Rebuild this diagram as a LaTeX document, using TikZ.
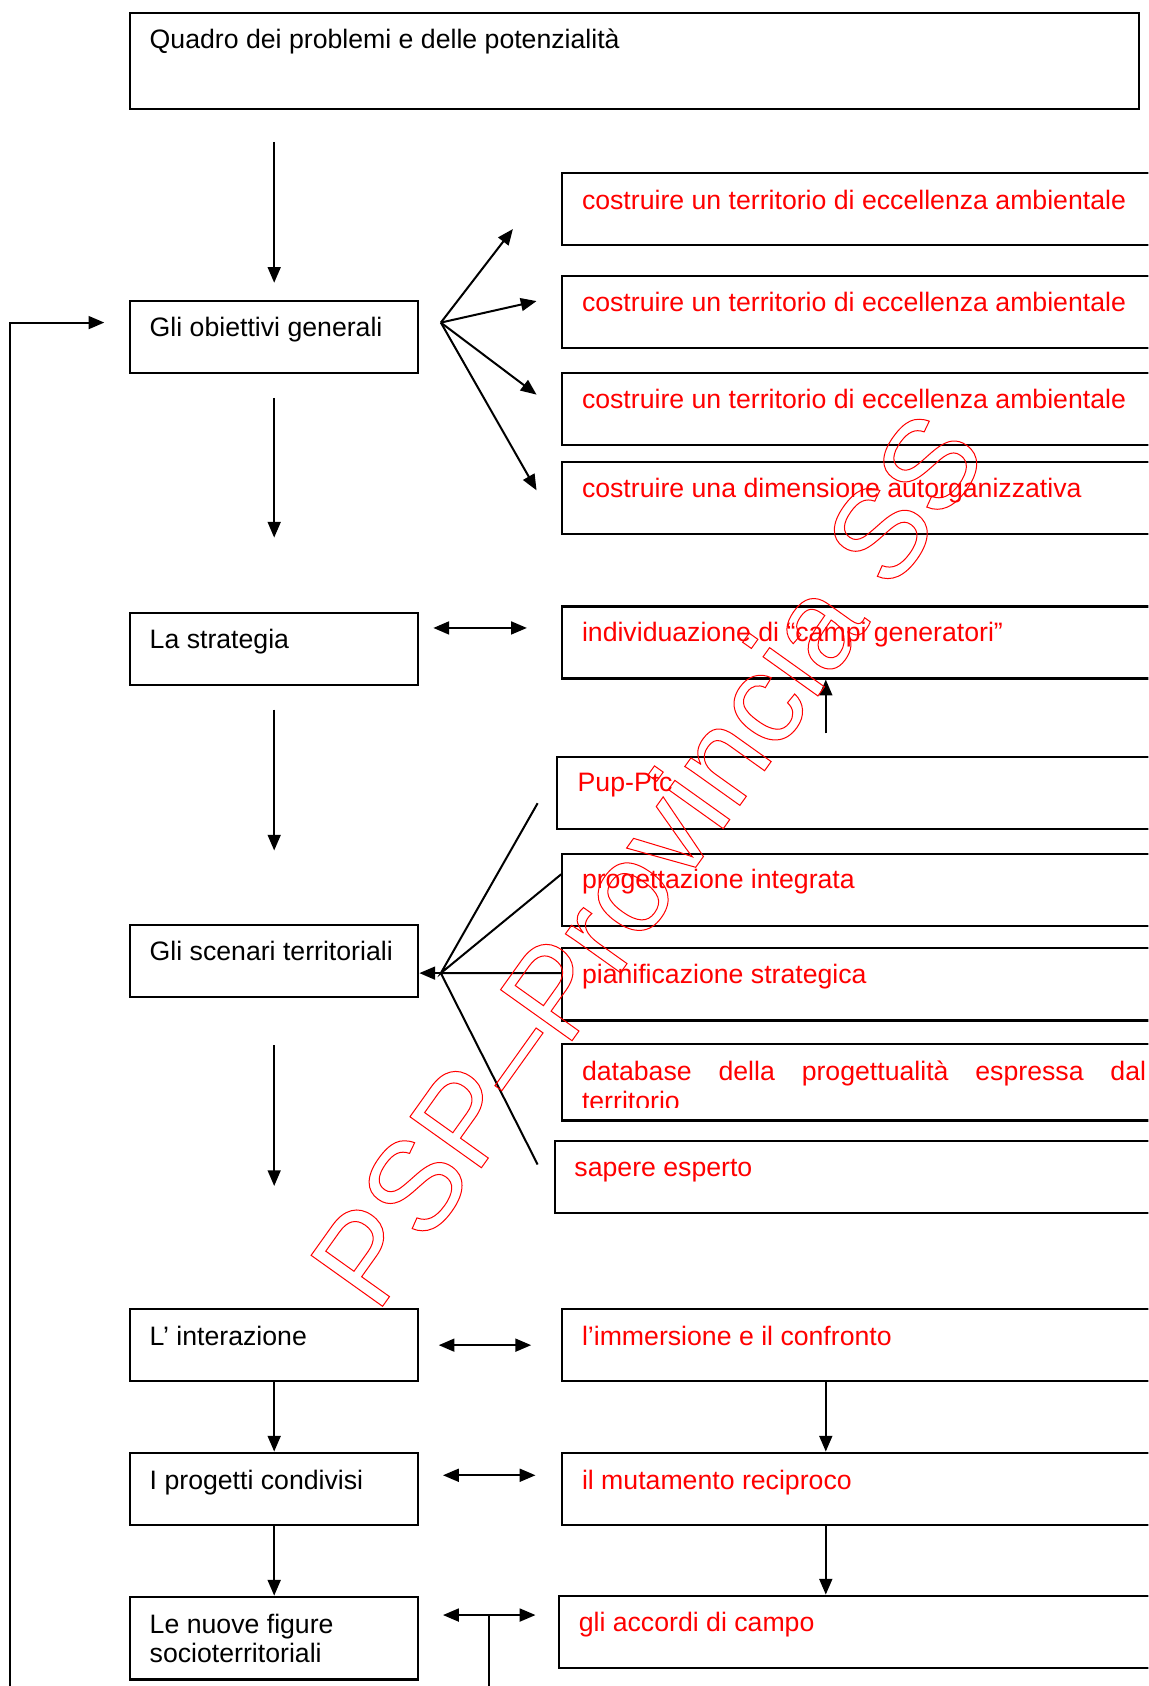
\documentclass[tikz,border=0pt]{standalone}
\usepackage{fontspec}
\setmainfont{Liberation Sans}
\usetikzlibrary{arrows.meta}

\begin{document}
\begin{tikzpicture}[x=0.75pt,y=-0.75pt]
		\tikzstyle{every node}+=[inner sep=0pt]
		\tikzstyle{box}=[draw, black, line width=1.5pt, anchor=north west, minimum height=50.25pt]
		\tikzstyle{lbox}=[box, minimum width=201pt]
		\tikzstyle{rbox}=[box, minimum width=450pt]
		\tikzstyle{txt}=[anchor=base west, font=\fontsize{18.6}{20.6}\selectfont]
		\tikzstyle{rtxt}=[txt, text=red]
		\tikzstyle{arr}=[black, line width=1.4pt, -{Triangle[length=11pt,width=9pt]}]
		\tikzstyle{dbl}=[black, line width=1.4pt, {Triangle[length=11pt,width=9pt]}-{Triangle[length=11pt,width=9pt]}]
		\useasboundingbox (0,0) rectangle (1068,1568);
		\clip (0,0) rectangle (1068,1568);
		% left column
		\node [box, minimum width=703.5pt, minimum height=66.75pt] (quadro) at (120,11) {};
		\node [txt] (quadroT) at ([shift={(19,34)}]quadro.north west) {Quadro dei problemi e delle potenzialità};
		\node [lbox] (obj) at (120,279) {};
		\node [txt] (objT) at ([shift={(19,34)}]obj.north west) {Gli obiettivi generali};
		\node [lbox] (strat) at (120,569) {};
		\node [txt] (stratT) at ([shift={(19,34)}]strat.north west) {La strategia};
		\node [lbox] (scen) at (120,859) {};
		\node [txt] (scenT) at ([shift={(19,34)}]scen.north west) {Gli scenari territoriali};
		\node [lbox] (inter) at (120,1216) {};
		\node [txt] (interT) at ([shift={(19,35)}]inter.north west) {L’ interazione};
		\node [lbox] (prog) at (120,1350) {};
		\node [txt] (progT) at ([shift={(19,35)}]prog.north west) {I progetti condivisi};
		\node [lbox, minimum height=57.75pt] (nuove) at (120,1484) {};
		\node [txt] (nuoveT) at ([shift={(19,35)}]nuove.north west) {\parbox[t]{180pt}{Le nuove figure\\socioterritoriali}};
		% right column
		\node [rbox] (ob1) at (522,160) {};
		\node [rtxt] (ob1T) at ([shift={(19,35)}]ob1.north west) {costruire un territorio di eccellenza ambientale};
		\node [rbox] (ob2) at (522,256) {};
		\node [rtxt] (ob2T) at ([shift={(19,34)}]ob2.north west) {costruire un territorio di eccellenza ambientale};
		\node [rbox] (ob3) at (522,346) {};
		\node [rtxt] (ob3T) at ([shift={(19,34)}]ob3.north west) {costruire un territorio di eccellenza ambientale};
		\node [rbox] (ob4) at (522,429) {};
		\node [rtxt] (ob4T) at ([shift={(19,34)}]ob4.north west) {costruire una dimensione autorganizzativa};
		\node [rbox] (camp) at (522,563) {};
		\node [rtxt] (campT) at ([shift={(19,34)}]camp.north west) {individuazione di “campi generatori”};
		\node [rbox] (pup) at (517,703) {};
		\node [rtxt] (pupT) at ([shift={(20,33)}]pup.north west) {Pup-Ptc};
		\node [rbox] (pint) at (522,793) {};
		\node [rtxt] (pintT) at ([shift={(19,33)}]pint.north west) {progettazione integrata};
		\node [rbox] (pian) at (522,881) {};
		\node [rtxt] (pianT) at ([shift={(19,34)}]pian.north west) {pianificazione strategica};
		\node [rbox, minimum height=53.25pt] (db) at (522,970) {};
		\begin{scope}
			\clip (522,970) rectangle (1068,1030);
			\node [rtxt] (dbT) at ([shift={(19,35)}]db.north west) {\parbox[t]{393.5pt}{\hbadness=10000 database della progettualità espressa dal\linebreak territorio}};
		\end{scope}
		\node [rbox] (sap) at (515,1060) {};
		\node [rtxt] (sapT) at ([shift={(19,34)}]sap.north west) {sapere esperto};
		\node [rbox] (imm) at (522,1216) {};
		\node [rtxt] (immT) at ([shift={(19,35)}]imm.north west) {l’immersione e il confronto};
		\node [rbox] (mut) at (522,1350) {};
		\node [rtxt] (mutT) at ([shift={(19,35)}]mut.north west) {il mutamento reciproco};
		\node [rbox] (acc) at (519,1483) {};
		\node [rtxt] (accT) at ([shift={(19,34)}]acc.north west) {gli accordi di campo};
		% downward arrows
		\draw [arr, shorten <=22.5pt, shorten >=12pt] (obj.north |- quadro.south) -- (obj.north);
		\draw [arr, shorten <=16.5pt, shorten >=51.75pt] (obj.south) -- (strat.north);
		\draw [arr, shorten <=16.5pt, shorten >=51pt] (strat.south) -- (scen.north);
		\draw [arr, shorten <=33pt, shorten >=84.75pt] (scen.south) -- (inter.north);
		\draw [arr] (inter.south) -- (prog.north);
		\draw [arr] (prog.south) -- (nuove.north);
		\coordinate (colR) at (768,0);
		\draw [arr] (imm.south -| colR) -- (mut.north -| colR);
		\draw [arr] (mut.south -| colR) -- (acc.north -| colR);
		\coordinate (upfoot) at (768,682);
		\draw [arr] (upfoot) -- (upfoot |- camp.south);
		% fan of objectives
		\coordinate (fanA) at (410,300);
		\foreach \x/\y [count=\i] in {477/213, 499/280, 499/367, 499/456} {
			\coordinate (tipA\i) at (\x,\y);
			\draw [arr] (fanA) -- (tipA\i);
		}
		% fan of scenarios
		\coordinate (fanB) at (410,905);
		\coordinate (endB1) at (500,747);
		\coordinate (endB2) at (522,813);
		\coordinate (endB4) at (500,1083);
		\draw [black, line width=1.4pt] (endB1) -- (fanB) -- (endB2);
		\draw [black, line width=1.4pt] (fanB -| pian.west) -- (fanB) -- (endB4);
		\draw [arr] (fanB) -- (fanB -| scen.east);
		% two-way arrows
		\foreach \a/\b/\y [count=\i] in {403/490/584, 408/494/1251, 412/498/1372, 412/498/1502} {
			\coordinate (dl\i) at (\a,\y);
			\coordinate (dr\i) at (\b,\y);
			\draw [dbl] (dl\i) -- (dr\i);
		}
		% feedback loop
		\coordinate (loopA) at (455,1502);
		\coordinate (loopB) at (9,300);
		\draw [arr, shorten >=17.25pt] (loopA) -- (455,1640) -| (loopB) -- (loopB -| obj.west);
		% watermark
		\node [rotate=54.5, anchor=base west, text=red, font=\fontsize{89}{89}\selectfont] (wm) at (350,1223)
			{\special{pdf:literal direct 1 Tr 0.7 w}PSP--Provincia SS\special{pdf:literal direct 0 Tr}};
	\end{tikzpicture}
\end{document}
